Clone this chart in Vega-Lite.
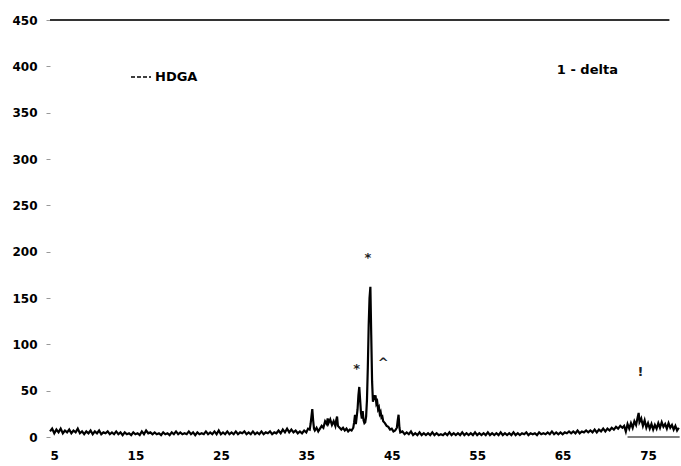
{
  "$schema": "https://vega.github.io/schema/vega-lite/v6.json",
  "width": 630,
  "height": 417,
  "autosize": {"type": "none"},
  "padding": {"left": 50, "top": 20, "right": 1, "bottom": 29},
  "background": "white",
  "config": {
    "view": {"stroke": null},
    "font": "DejaVu Sans",
    "axis": {"labelFont": "DejaVu Sans", "labelFontWeight": "bold", "labelFontSize": 12, "labelColor": "#000", "grid": false, "domain": false, "title": null},
    "legend": {"labelFont": "DejaVu Sans", "labelFontWeight": "bold", "labelFontSize": 13, "labelColor": "#000"}
  },
  "layer": [
    {
      "data": {"values": [
        {"x":5.0,"y":6},{"x":5.25,"y":9},{"x":5.5,"y":4},{"x":5.75,"y":8},{"x":6.0,"y":5},{"x":6.25,"y":9},{"x":6.5,"y":4},{"x":6.75,"y":7},{"x":7.0,"y":5},{"x":7.25,"y":8},{"x":7.5,"y":4},{"x":7.75,"y":7},{"x":8.0,"y":5},{"x":8.25,"y":9},{"x":8.5,"y":4},{"x":8.75,"y":6},{"x":9.0,"y":3},{"x":9.25,"y":6},{"x":9.5,"y":4},{"x":9.75,"y":7},
        {"x":10.0,"y":3},{"x":10.25,"y":6},{"x":10.5,"y":4},{"x":10.75,"y":7},{"x":11.0,"y":3},{"x":11.25,"y":5},{"x":11.5,"y":4},{"x":11.75,"y":6},{"x":12.0,"y":3},{"x":12.25,"y":5},{"x":12.5,"y":3},{"x":12.75,"y":6},{"x":13.0,"y":3},{"x":13.25,"y":5},{"x":13.5,"y":2},{"x":13.75,"y":5},{"x":14.0,"y":3},{"x":14.25,"y":4},{"x":14.5,"y":2},{"x":14.75,"y":5},
        {"x":15.0,"y":3},{"x":15.25,"y":4},{"x":15.5,"y":2},{"x":15.75,"y":6},{"x":16.0,"y":3},{"x":16.25,"y":7},{"x":16.5,"y":4},{"x":16.75,"y":5},{"x":17.0,"y":3},{"x":17.25,"y":5},{"x":17.5,"y":3},{"x":17.75,"y":4},{"x":18.0,"y":2},{"x":18.25,"y":5},{"x":18.5,"y":3},{"x":18.75,"y":4},{"x":19.0,"y":2},{"x":19.25,"y":5},{"x":19.5,"y":3},{"x":19.75,"y":6},
        {"x":20.0,"y":3},{"x":20.25,"y":5},{"x":20.5,"y":3},{"x":20.75,"y":4},{"x":21.0,"y":3},{"x":21.25,"y":6},{"x":21.5,"y":3},{"x":21.75,"y":5},{"x":22.0,"y":2},{"x":22.25,"y":5},{"x":22.5,"y":3},{"x":22.75,"y":4},{"x":23.0,"y":3},{"x":23.25,"y":6},{"x":23.5,"y":3},{"x":23.75,"y":5},{"x":24.0,"y":3},{"x":24.25,"y":6},{"x":24.5,"y":3},{"x":24.75,"y":7},
        {"x":25.0,"y":3},{"x":25.25,"y":5},{"x":25.5,"y":3},{"x":25.75,"y":6},{"x":26.0,"y":3},{"x":26.25,"y":5},{"x":26.5,"y":3},{"x":26.75,"y":6},{"x":27.0,"y":3},{"x":27.25,"y":5},{"x":27.5,"y":4},{"x":27.75,"y":6},{"x":28.0,"y":3},{"x":28.25,"y":5},{"x":28.5,"y":3},{"x":28.75,"y":6},{"x":29.0,"y":3},{"x":29.25,"y":5},{"x":29.5,"y":3},{"x":29.75,"y":6},
        {"x":30.0,"y":3},{"x":30.25,"y":5},{"x":30.5,"y":4},{"x":30.75,"y":6},{"x":31.0,"y":3},{"x":31.25,"y":5},{"x":31.5,"y":4},{"x":31.75,"y":7},{"x":32.0,"y":4},{"x":32.25,"y":8},{"x":32.5,"y":5},{"x":32.75,"y":9},{"x":33.0,"y":5},{"x":33.25,"y":8},{"x":33.5,"y":5},{"x":33.75,"y":7},{"x":34.0,"y":4},{"x":34.25,"y":6},{"x":34.5,"y":4},{"x":34.75,"y":7},
        {"x":35.0,"y":5},{"x":35.2,"y":9},{"x":35.4,"y":8},{"x":35.5,"y":14},{"x":35.6,"y":22},{"x":35.7,"y":30},{"x":35.8,"y":18},{"x":35.9,"y":9},{"x":36.0,"y":7},{"x":36.2,"y":10},{"x":36.4,"y":6},{"x":36.6,"y":9},{"x":36.8,"y":12},{"x":37.0,"y":10},{"x":37.2,"y":17},{"x":37.4,"y":14},{"x":37.5,"y":20},{"x":37.6,"y":15},{"x":37.8,"y":19},{"x":38.0,"y":13},
        {"x":38.2,"y":17},{"x":38.4,"y":12},{"x":38.5,"y":18},{"x":38.6,"y":22},{"x":38.7,"y":12},{"x":38.9,"y":10},{"x":39.1,"y":8},{"x":39.3,"y":10},{"x":39.5,"y":7},{"x":39.7,"y":9},{"x":39.9,"y":6},{"x":40.1,"y":8},{"x":40.3,"y":7},{"x":40.5,"y":10},{"x":40.6,"y":16},{"x":40.7,"y":24},{"x":40.8,"y":14},{"x":40.9,"y":22},{"x":41.0,"y":30},{"x":41.1,"y":45},
        {"x":41.2,"y":54},{"x":41.3,"y":40},{"x":41.4,"y":26},{"x":41.5,"y":20},{"x":41.6,"y":28},{"x":41.7,"y":18},{"x":41.8,"y":15},{"x":41.9,"y":16},{"x":42.0,"y":22},{"x":42.1,"y":40},{"x":42.2,"y":75},{"x":42.3,"y":120},{"x":42.4,"y":150},{"x":42.5,"y":162},{"x":42.6,"y":110},{"x":42.7,"y":60},{"x":42.8,"y":38},{"x":42.9,"y":45},{"x":43.0,"y":40},{"x":43.1,"y":45},
        {"x":43.2,"y":36},{"x":43.3,"y":38},{"x":43.4,"y":30},{"x":43.5,"y":32},{"x":43.6,"y":25},{"x":43.7,"y":27},{"x":43.8,"y":21},{"x":43.9,"y":22},{"x":44.0,"y":17},{"x":44.2,"y":15},{"x":44.4,"y":12},{"x":44.6,"y":11},{"x":44.8,"y":8},{"x":45.0,"y":9},{"x":45.2,"y":6},{"x":45.4,"y":7},{"x":45.6,"y":10},{"x":45.7,"y":18},{"x":45.8,"y":24},{"x":45.9,"y":10},{"x":46.0,"y":5},
        {"x":46.25,"y":6},{"x":46.5,"y":3},{"x":46.75,"y":5},{"x":47.0,"y":3},{"x":47.25,"y":6},{"x":47.5,"y":2},{"x":47.75,"y":4},{"x":48.0,"y":2},{"x":48.25,"y":5},{"x":48.5,"y":2},{"x":48.75,"y":4},{"x":49.0,"y":2},{"x":49.25,"y":4},{"x":49.5,"y":2},{"x":49.75,"y":5},
        {"x":50.0,"y":2},{"x":50.25,"y":4},{"x":50.5,"y":2},{"x":50.75,"y":3},{"x":51.0,"y":2},{"x":51.25,"y":4},{"x":51.5,"y":2},{"x":51.75,"y":5},{"x":52.0,"y":2},{"x":52.25,"y":4},{"x":52.5,"y":2},{"x":52.75,"y":4},{"x":53.0,"y":2},{"x":53.25,"y":5},{"x":53.5,"y":2},{"x":53.75,"y":4},{"x":54.0,"y":2},{"x":54.25,"y":4},{"x":54.5,"y":2},{"x":54.75,"y":5},
        {"x":55.0,"y":2},{"x":55.25,"y":4},{"x":55.5,"y":2},{"x":55.75,"y":4},{"x":56.0,"y":2},{"x":56.25,"y":5},{"x":56.5,"y":2},{"x":56.75,"y":4},{"x":57.0,"y":2},{"x":57.25,"y":4},{"x":57.5,"y":2},{"x":57.75,"y":5},{"x":58.0,"y":2},{"x":58.25,"y":4},{"x":58.5,"y":2},{"x":58.75,"y":4},{"x":59.0,"y":2},{"x":59.25,"y":5},{"x":59.5,"y":2},{"x":59.75,"y":4},
        {"x":60.0,"y":2},{"x":60.25,"y":4},{"x":60.5,"y":3},{"x":60.75,"y":5},{"x":61.0,"y":2},{"x":61.25,"y":4},{"x":61.5,"y":3},{"x":61.75,"y":4},{"x":62.0,"y":2},{"x":62.25,"y":5},{"x":62.5,"y":3},{"x":62.75,"y":4},{"x":63.0,"y":3},{"x":63.25,"y":5},{"x":63.5,"y":3},{"x":63.75,"y":6},{"x":64.0,"y":3},{"x":64.25,"y":5},{"x":64.5,"y":3},{"x":64.75,"y":5},
        {"x":65.0,"y":3},{"x":65.25,"y":5},{"x":65.5,"y":4},{"x":65.75,"y":6},{"x":66.0,"y":4},{"x":66.25,"y":6},{"x":66.5,"y":4},{"x":66.75,"y":7},{"x":67.0,"y":4},{"x":67.25,"y":6},{"x":67.5,"y":5},{"x":67.75,"y":7},{"x":68.0,"y":5},{"x":68.25,"y":7},{"x":68.5,"y":5},{"x":68.75,"y":8},{"x":69.0,"y":5},{"x":69.25,"y":8},{"x":69.5,"y":6},{"x":69.75,"y":9},
        {"x":70.0,"y":6},{"x":70.25,"y":9},{"x":70.5,"y":7},{"x":70.75,"y":10},{"x":71.0,"y":8},{"x":71.25,"y":11},{"x":71.5,"y":9},{"x":71.75,"y":12},{"x":72.0,"y":10},
        {"x":72.2,"y":12},{"x":72.4,"y":6},{"x":72.6,"y":14},{"x":72.8,"y":9},{"x":73.0,"y":15},{"x":73.2,"y":10},{"x":73.4,"y":17},{"x":73.6,"y":13},{"x":73.8,"y":22},{"x":73.9,"y":26},{"x":74.0,"y":16},{"x":74.2,"y":20},{"x":74.4,"y":12},{"x":74.6,"y":18},{"x":74.8,"y":10},{"x":75.0,"y":15},{"x":75.2,"y":9},{"x":75.4,"y":14},{"x":75.6,"y":8},{"x":75.8,"y":13},
        {"x":76.0,"y":9},{"x":76.2,"y":15},{"x":76.4,"y":10},{"x":76.6,"y":16},{"x":76.8,"y":11},{"x":77.0,"y":14},{"x":77.2,"y":9},{"x":77.4,"y":15},{"x":77.6,"y":10},{"x":77.8,"y":13},{"x":78.0,"y":8},{"x":78.2,"y":12},{"x":78.4,"y":7},{"x":78.6,"y":10}
      ]},
      "mark": {"type": "line", "strokeWidth": 2.2},
      "encoding": {
        "x": {"field": "x", "type": "quantitative", "scale": {"domain": [5, 78.74], "nice": false, "zero": false},
              "axis": {"values": [5, 15, 25, 35, 45, 55, 65, 75], "ticks": false, "labelPadding": 13, "title": null}},
        "y": {"field": "y", "type": "quantitative", "scale": {"domain": [0, 450], "nice": false},
              "axis": {"values": [0, 50, 100, 150, 200, 250, 300, 350, 400, 450], "tickSize": 4, "tickColor": "#999", "labelPadding": 9, "title": null}},
        "color": {"datum": "HDGA", "type": "nominal", "scale": {"range": ["#000000"]},
                  "legend": {"orient": "none", "legendX": 80, "legendY": 46, "title": null, "symbolType": "stroke", "symbolStrokeWidth": 1.5, "symbolDash": [4, 2], "symbolSize": 400, "labelOffset": 3}}
      }
    },
    {
      "data": {"values": [{"x": 5, "x2": 77.5, "y": 450}]},
      "mark": {"type": "rule", "stroke": "#333", "strokeWidth": 2},
      "encoding": {"x": {"field": "x", "type": "quantitative"}, "x2": {"field": "x2"}, "y": {"field": "y", "type": "quantitative"}}
    },
    {
      "data": {"values": [{"x": 72.6, "x2": 78.7, "y": 0}]},
      "mark": {"type": "rule", "stroke": "#000", "strokeWidth": 1},
      "encoding": {"x": {"field": "x", "type": "quantitative"}, "x2": {"field": "x2"}, "y": {"field": "y", "type": "quantitative"}}
    },
    {
      "data": {"values": [
        {"x": 42.2, "y": 193, "t": "*"},
        {"x": 40.9, "y": 73, "t": "*"},
        {"x": 44.0, "y": 80, "t": "^"},
        {"x": 74.1, "y": 70, "t": "!"}
      ]},
      "mark": {"type": "text", "font": "DejaVu Sans", "fontWeight": "bold", "fontSize": 13, "color": "#222", "baseline": "middle", "align": "center"},
      "encoding": {"x": {"field": "x", "type": "quantitative"}, "y": {"field": "y", "type": "quantitative"}, "text": {"field": "t"}}
    },
    {
      "data": {"values": [{"x": 67.9, "y": 396, "t": "1 - delta"}]},
      "mark": {"type": "text", "font": "DejaVu Sans", "fontWeight": "bold", "fontSize": 13, "color": "#000", "baseline": "middle", "align": "center"},
      "encoding": {"x": {"field": "x", "type": "quantitative"}, "y": {"field": "y", "type": "quantitative"}, "text": {"field": "t"}}
    }
  ]
}
